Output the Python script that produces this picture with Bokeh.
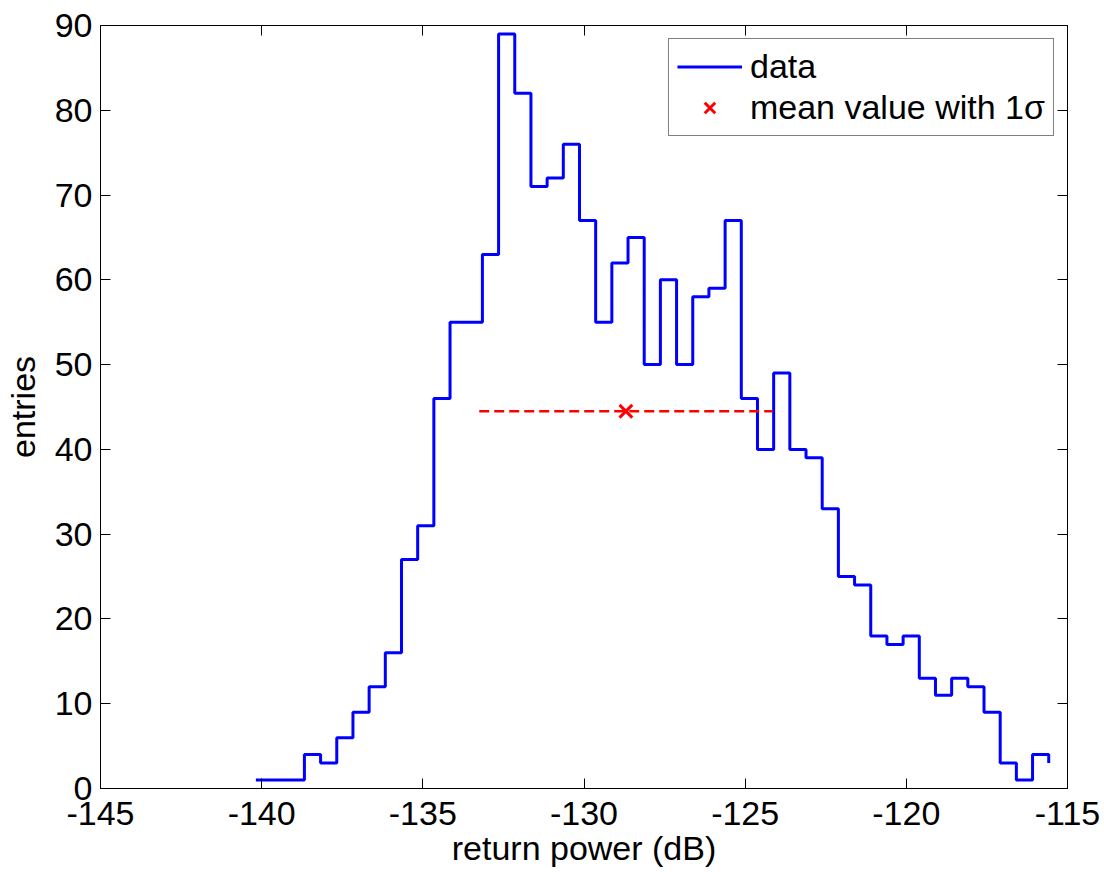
import numpy as np
from bokeh.plotting import figure
from bokeh.models import (LinearAxis, FixedTicker, Legend, LegendItem,
                          CustomLabelingPolicy, PrintfTickFormatter)
from bokeh.embed import file_html
from bokeh.resources import INLINE

# histogram data (stairs: value holds from each bin position to the next)
bin_start = -140.18
bin_width = 0.502
counts = [1, 1, 1, 4, 3, 6, 9, 12, 16, 27, 31, 46, 55, 55, 63, 89, 82,
          71, 72, 76, 67, 55, 62, 65, 50, 60, 50, 58, 59, 67, 46, 40, 49,
          40, 39, 33, 25, 24, 18, 17, 18, 13, 11, 13, 12, 9, 3, 1, 4, 3]
bin_pos = bin_start + bin_width * np.arange(len(counts))

# mean value with 1 sigma
mean_power = -128.7
sigma = 4.55
mean_entries = 44.5

x_ticks = [-145, -140, -135, -130, -125, -120, -115]
y_ticks = [0, 10, 20, 30, 40, 50, 60, 70, 80, 90]

FONT = "Liberation Sans"
FS = "34px"

p = figure(width=1104, height=876, x_range=(-145, -115), y_range=(0, 90),
           output_backend="svg", toolbar_location=None,
           min_border_left=100, min_border_right=37,
           min_border_top=25, min_border_bottom=88)
p.background_fill_color = "white"
p.border_fill_color = "white"
p.outline_line_color = "black"
p.outline_line_width = 1
p.xgrid.visible = False
p.ygrid.visible = False

step_r = p.step(bin_pos, counts, mode="after", line_color="#0000FF", line_width=3)
p.line([mean_power - sigma, mean_power + sigma], [mean_entries, mean_entries],
       line_color="#FF0000", line_width=2.5, line_dash="10 5")
mean_r = p.scatter([mean_power], [mean_entries], marker="x", size=18,
                   line_color="#FF0000", line_width=3)

for ax in p.xaxis:
    ax.ticker = FixedTicker(ticks=x_ticks)
    ax.formatter = PrintfTickFormatter(format="%d")
    ax.axis_label = "return power (dB)"
    ax.major_label_standoff = 13
    ax.axis_label_standoff = 1
for ax in p.yaxis:
    ax.ticker = FixedTicker(ticks=y_ticks)
    ax.formatter = PrintfTickFormatter(format="%d")
    ax.axis_label = "entries"
    ax.major_label_standoff = 8
    ax.axis_label_standoff = 10

for ax in list(p.xaxis) + list(p.yaxis):
    ax.major_tick_in = 10
    ax.major_tick_out = 0
    ax.minor_tick_line_color = None
    ax.axis_line_color = "black"
    ax.major_tick_line_color = "black"
    ax.major_label_text_font = FONT
    ax.major_label_text_font_size = FS
    ax.major_label_text_color = "black"
    ax.axis_label_text_font = FONT
    ax.axis_label_text_font_size = FS
    ax.axis_label_text_font_style = "normal"
    ax.axis_label_text_color = "black"

hide_all = CustomLabelingPolicy(code="""
for (const i of Array.from(indices)) { indices.unset(i) }
return indices
""")

top = LinearAxis(ticker=FixedTicker(ticks=x_ticks), major_tick_in=10, major_tick_out=0,
                 minor_tick_line_color=None, major_label_policy=hide_all,
                 major_label_standoff=0, axis_line_color="black",
                 major_label_text_font_size="10px")
right = LinearAxis(ticker=FixedTicker(ticks=y_ticks), major_tick_in=10, major_tick_out=0,
                   minor_tick_line_color=None, major_label_policy=hide_all,
                   major_label_standoff=0, axis_line_color="black",
                   major_label_text_font_size="10px")
p.add_layout(top, "above")
p.add_layout(right, "right")

legend = Legend(items=[LegendItem(label="data", renderers=[step_r]),
                       LegendItem(label="mean value with 1σ", renderers=[mean_r])],
                location="top_right")
legend.label_text_font = FONT
legend.label_text_font_size = FS
legend.label_text_color = "black"
legend.border_line_color = "black"
legend.border_line_width = 1
legend.background_fill_color = "white"
legend.background_fill_alpha = 1
legend.glyph_width = 65
legend.glyph_height = 37
legend.label_height = 37
legend.label_standoff = 8
legend.spacing = 2
legend.padding = 8
legend.margin = 13
p.add_layout(legend)

open("out.html", "w").write(file_html(p, INLINE))
